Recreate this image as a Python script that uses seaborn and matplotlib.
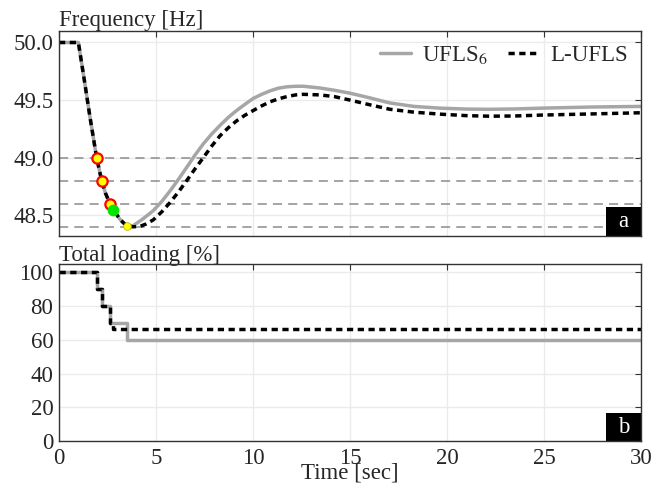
import numpy as np
import pandas as pd
import matplotlib.pyplot as plt
import seaborn as sns
from matplotlib.patches import Rectangle

# tiempos y frecuencias
t_drop = [0.0, 1.0, 1.3, 1.6, 1.94, 2.2, 2.4, 2.63, 2.8, 3.0, 3.14, 3.35, 3.53]
f_drop = [50.0, 50.0, 49.68, 49.35, 49.0, 48.8, 48.69, 48.6, 48.55, 48.5, 48.465, 48.43, 48.405]

t_ufls6 = [3.83, 4.3, 4.86, 5.3, 5.72, 6.15, 6.58, 7.0, 7.44, 7.87, 8.3, 8.73, 9.16,
           9.6, 10.02, 10.45, 10.88, 11.3, 11.74, 12.2, 12.6, 13.45, 14.2, 15.0,
           16.0, 17.06, 18.3, 19.64, 21.0, 22.2, 23.5, 24.9, 27.5, 30.0]
f_ufls6 = [48.41, 48.465, 48.54, 48.62, 48.71, 48.81, 48.915, 49.02, 49.12, 49.205,
           49.28, 49.35, 49.41, 49.465, 49.515, 49.55, 49.58, 49.603, 49.615, 49.62,
           49.62, 49.605, 49.585, 49.56, 49.52, 49.475, 49.445, 49.43, 49.422, 49.42,
           49.423, 49.43, 49.44, 49.445]

t_lufls = [3.83, 4.2, 4.5, 4.86, 5.3, 5.72, 6.15, 6.58, 7.0, 7.44, 7.87, 8.3, 8.73,
           9.16, 9.6, 10.02, 10.45, 10.88, 11.3, 11.74, 12.2, 12.6, 13.45, 14.2, 15.0,
           16.0, 17.06, 18.3, 19.64, 21.0, 22.2, 23.5, 24.9, 27.5, 30.0]
f_lufls = [48.40, 48.405, 48.425, 48.46, 48.53, 48.61, 48.70, 48.80, 48.90, 49.0,
           49.1, 49.19, 49.26, 49.32, 49.37, 49.41, 49.45, 49.485, 49.51, 49.53,
           49.545, 49.55, 49.545, 49.53, 49.5, 49.46, 49.42, 49.395, 49.378, 49.365,
           49.36, 49.362, 49.37, 49.38, 49.39]

# carga total [%]
t_load_ufls6 = [0.0, 1.94, 2.2, 2.63, 3.53, 30.0]
v_load_ufls6 = [100, 90, 80, 70, 60, 60]
t_load_lufls = [0.0, 1.94, 2.2, 2.63, 2.8, 30.0]
v_load_lufls = [100, 90, 80, 70, 66.7, 66.7]

# umbrales y eventos de deslastre
umbrales = [49.0, 48.8, 48.6, 48.4]
t_eventos = [1.94, 2.2, 2.63]
f_eventos = [49.0, 48.8, 48.6]
t_verde, f_verde = 2.8, 48.55
t_amarillo, f_amarillo = 3.53, 48.405

sns.set_theme(style="whitegrid")
plt.rcParams['font.family'] = ['Liberation Serif', 'DejaVu Serif']
plt.rcParams['mathtext.fontset'] = 'stix'

gris = '#a6a6a6'
dotted = (0, (1.8, 1.3))
fs = 16.5

fig = plt.figure(figsize=(6.51, 4.84), dpi=100)
ax1 = fig.add_axes([0.0906, 0.5124, 0.894, 0.4236])
ax2 = fig.add_axes([0.0906, 0.0888, 0.894, 0.3657])

df_u = pd.DataFrame({'t': t_drop + t_ufls6, 'f': f_drop + f_ufls6})
df_l = pd.DataFrame({'t': t_drop + t_lufls, 'f': f_drop + f_lufls})

# umbrales de frecuencia
for u in umbrales:
    ax1.axhline(u, color='#8c8c8c', lw=1.1, ls=(0, (6, 4)), zorder=1)

sns.lineplot(data=df_u, x='t', y='f', ax=ax1, color=gris, lw=2.5, label='UFLS$_6$',
             estimator=None, sort=False, zorder=3)
sns.lineplot(data=df_l, x='t', y='f', ax=ax1, color='black', lw=2.5, ls=dotted,
             label='L-UFLS', estimator=None, sort=False, zorder=4)

ax1.scatter(t_eventos, f_eventos, s=55, facecolor='yellow', edgecolor='red', lw=1.6, zorder=6)
ax1.scatter([t_verde], [f_verde], s=55, facecolor='#00e600', edgecolor='#00e600', zorder=6)
ax1.scatter([t_amarillo], [f_amarillo], s=30, facecolor='yellow', edgecolor='#bbbb00', lw=0.6, zorder=6)

ax1.set_xlim(0, 30)
ax1.set_ylim(48.32, 50.1)
ax1.set_yticks([48.5, 49.0, 49.5, 50.0])
ax1.set_yticklabels(['48.5', '49.0', '49.5', '50.0'])
ax1.set_xticks(range(0, 31, 5))
ax1.set_xticklabels([])
ax1.set_xlabel('')
ax1.set_ylabel('')
ax1.set_title('Frequency [Hz]', loc='left', fontsize=fs, pad=2)
ax1.legend(loc='upper right', frameon=False, fontsize=fs, handlelength=1.35,
           handletextpad=0.5, columnspacing=0.9, ncol=2, borderaxespad=0.3,
           borderpad=0.25)

df_lu = pd.DataFrame({'t': t_load_ufls6, 'v': v_load_ufls6})
df_ll = pd.DataFrame({'t': t_load_lufls, 'v': v_load_lufls})
sns.lineplot(data=df_lu, x='t', y='v', ax=ax2, color=gris, lw=2.5, drawstyle='steps-post',
             estimator=None, sort=False, zorder=3)
sns.lineplot(data=df_ll, x='t', y='v', ax=ax2, color='black', lw=2.5, ls=dotted,
             drawstyle='steps-post', estimator=None, sort=False, zorder=4)
ax2.set_xlim(0, 30)
ax2.set_ylim(0, 105)
ax2.set_yticks(range(0, 101, 20))
ax2.set_xticks(range(0, 31, 5))
ax2.set_ylabel('')
ax2.set_xlabel('Time [sec]', fontsize=fs, labelpad=-5)
ax2.set_title('Total loading [%]', loc='left', fontsize=fs, pad=2)

# estilo comun y etiquetas de panel
for ax, letra, h in [(ax1, 'a', 0.141), (ax2, 'b', 0.158)]:
    ax.grid(True, color='#ebebeb', lw=1.0)
    ax.set_axisbelow(True)
    for s in ax.spines.values():
        s.set_color('#333333')
        s.set_linewidth(1.0)
        s.set_zorder(12)
    ax.tick_params(direction='in', top=True, right=True, length=4, width=0.8,
                   color='#333333', labelsize=fs, pad=4)
    ax.tick_params(axis='x', pad=5)
    w = 0.06
    ax.add_patch(Rectangle((1 - w, 0), w, h, transform=ax.transAxes, fc='black',
                           ec='none', zorder=10, clip_on=False))
    ax.text(1 - w / 2, h / 2, letra, transform=ax.transAxes, ha='center', va='center',
            color='white', fontsize=fs, zorder=11)

plt.savefig('out.png', dpi=100)
